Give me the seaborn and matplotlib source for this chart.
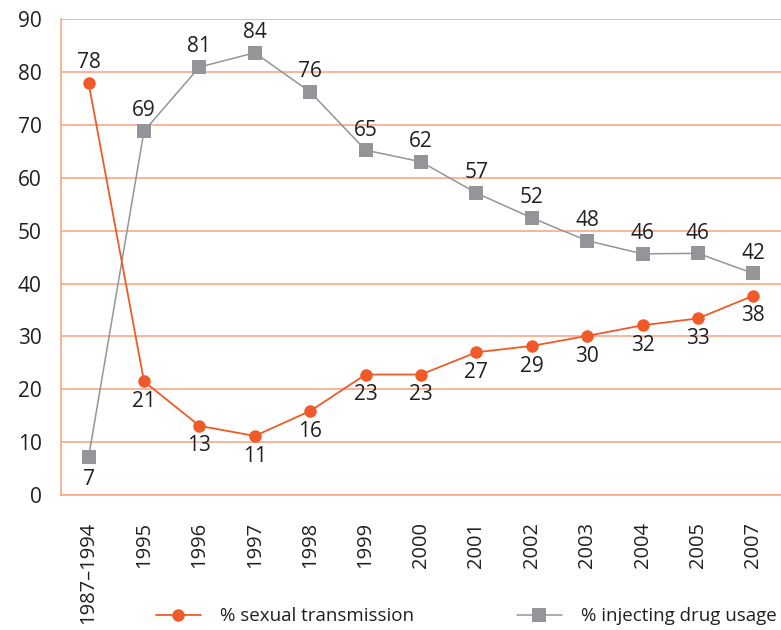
import matplotlib
matplotlib.use("Agg")
import matplotlib.pyplot as plt
import numpy as np
import pandas as pd
import seaborn as sns

# categorías y valores
anios = ["1987\u20131994", "1995", "1996", "1997", "1998", "1999", "2000",
         "2001", "2002", "2003", "2004", "2005", "2007"]
sexual = [77.9, 21.5, 13.1, 11.2, 15.9, 22.8, 22.8, 27.0, 28.2, 30.1, 32.1, 33.4, 37.7]
sexual_lbl = [78, 21, 13, 11, 16, 23, 23, 27, 29, 30, 32, 33, 38]
drogas = [7.2, 68.8, 80.9, 83.6, 76.2, 65.2, 63.0, 57.1, 52.4, 48.1, 45.6, 45.7, 41.9]
drogas_lbl = [7, 69, 81, 84, 76, 65, 62, 57, 52, 48, 46, 46, 42]

c_naranja = "#F05A28"
c_gris = "#939598"
c_grid = "#F7A88A"
c_texto = "#231F20"

sns.set_style("white")
plt.rcParams["font.family"] = ["Open Sans", "DejaVu Sans"]

pos = np.arange(len(anios))
df = pd.DataFrame({
    "pos": np.concatenate([pos, pos]),
    "valor": sexual + drogas,
    "serie": ["% sexual transmission"] * len(anios) + ["% injecting drug usage"] * len(anios),
})

fig = plt.figure(figsize=(7.81, 6.30), dpi=100)
ax = fig.add_axes([0.078, 0.214, 0.922, 0.756])

sns.lineplot(data=df[df["serie"] == "% sexual transmission"], x="pos", y="valor",
             color=c_naranja, marker="o", markersize=9, markeredgewidth=0,
             linewidth=1.3, label="% sexual transmission", ax=ax, zorder=4)
sns.lineplot(data=df[df["serie"] == "% injecting drug usage"], x="pos", y="valor",
             color=c_gris, marker="s", markersize=9.5, markeredgewidth=0,
             linewidth=1.1, label="% injecting drug usage", ax=ax, zorder=3)

# etiquetas de datos (naranja debajo, gris encima, salvo el primer año)
for i in pos:
    dy = 15 if i == 0 else -14.5
    ax.annotate(str(sexual_lbl[i]), (i, sexual[i]), xytext=(0, dy),
                textcoords="offset points", ha="center", va="center",
                fontsize=15, color=c_texto)
    dy = -16.5 if i == 0 else 14.5
    ax.annotate(str(drogas_lbl[i]), (i, drogas[i]), xytext=(0, dy),
                textcoords="offset points", ha="center", va="center",
                fontsize=15, color=c_texto)

ax.set_ylim(0, 90)
ax.set_xlim(-0.5, -0.5 + 720 / 56)
ax.set_yticks(range(0, 91, 10))
ax.set_xticks(pos)
ax.set_xticklabels(anios, rotation=90, fontsize=14.5, color=c_texto)
ax.set_xticks(np.arange(-0.5, len(anios), 1), minor=True)
ax.tick_params(axis="x", which="major", length=0, pad=19)
ax.tick_params(axis="x", which="minor", length=11, width=1.2, color=c_grid)
ax.tick_params(axis="y", length=11, width=1.2, color=c_grid, labelsize=15,
               labelcolor=c_texto, pad=3)
ax.set_xlabel("")
ax.set_ylabel("")
ax.grid(axis="y", color=c_grid, linewidth=1.2)
ax.set_axisbelow(True)
for s in ["top", "right", "bottom"]:
    ax.spines[s].set_visible(False)
ax.spines["left"].set_color(c_grid)
ax.spines["left"].set_linewidth(1.2)
ax.axhline(0, color=c_grid, linewidth=1.2, clip_on=False)

h, l = ax.get_legend_handles_labels()
ax.get_legend().remove()
fig.legend(h, l, loc="center left", bbox_to_anchor=(0.178, 0.022), ncol=2,
           frameon=False, fontsize=13.5, handlelength=2.4, handletextpad=1.0,
           columnspacing=5.5, labelcolor=c_texto)

fig.savefig("out.png", dpi=100)
